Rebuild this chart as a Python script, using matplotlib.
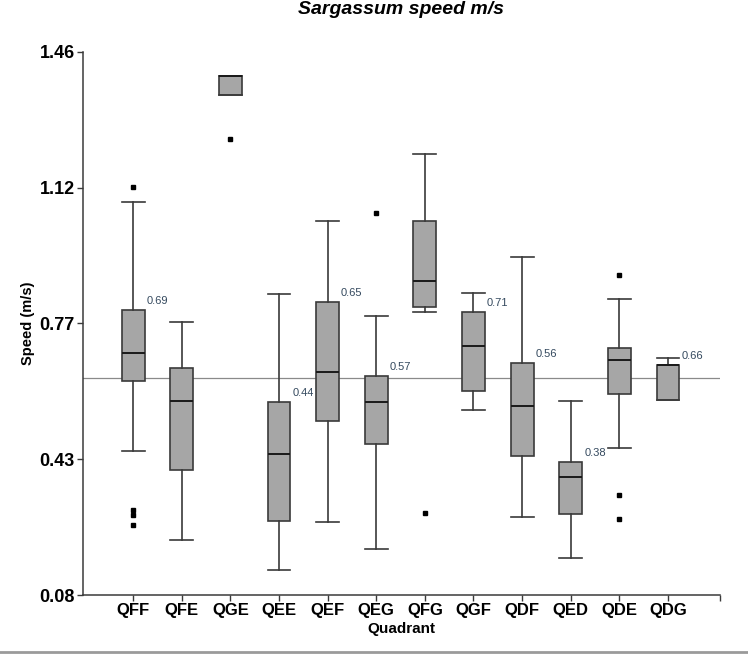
import matplotlib
matplotlib.use("Agg")
import matplotlib.pyplot as plt
from matplotlib.lines import Line2D

plt.rcParams['font.family'] = ['Liberation Sans', 'DejaVu Sans']

categories = ['QFF', 'QFE', 'QGE', 'QEE', 'QEF', 'QEG', 'QFG', 'QGF', 'QDF', 'QED', 'QDE', 'QDG']
whisker_high = [1.08, 0.775, 1.40, 0.845, 1.03, 0.79, 1.20, 0.848, 0.94, 0.573, 0.832, 0.682]
q3_values = [0.805, 0.658, 1.40, 0.570, 0.824, 0.636, 1.03, 0.798, 0.669, 0.419, 0.708, 0.664]
median_values = [0.694, 0.573, 1.40, 0.438, 0.648, 0.571, 0.878, 0.713, 0.561, 0.379, 0.677, 0.664]
q1_values = [0.624, 0.397, 1.350, 0.268, 0.522, 0.464, 0.812, 0.598, 0.432, 0.285, 0.591, 0.575]
whisker_low = [0.447, 0.219, 1.350, 0.143, 0.266, 0.198, 0.799, 0.549, 0.279, 0.175, 0.453, 0.575]
outliers = [[1.118, 0.295, 0.283, 0.258], [], [1.240], [], [], [1.050], [0.289], [], [], [],
            [0.892, 0.333, 0.272], []]
box_labels = ['0.69', None, None, '0.44', '0.65', '0.57', None, '0.71', '0.56', '0.38', None, '0.66']
reference_value = 0.631
y_ticks = [0.08, 0.425, 0.77, 1.115, 1.46]
y_tick_labels = ['0.08', '0.43', '0.77', '1.12', '1.46']

fig = plt.figure(figsize=(7.48, 6.57), dpi=100)
ax = fig.add_axes([83/748, 1-595/657, (720-83)/748, (595-52)/657])

stats = []
for i, c in enumerate(categories):
    stats.append(dict(label=c, med=median_values[i], q1=q1_values[i], q3=q3_values[i],
                      whislo=whisker_low[i], whishi=whisker_high[i], fliers=outliers[i]))

positions = list(range(1, len(categories) + 1))
width = 0.47
ax.axhline(reference_value, color='#8a8a8a', lw=0.9, zorder=0)
ax.bxp(stats, positions=positions, widths=width, patch_artist=True, showfliers=True,
       boxprops=dict(facecolor='#a6a6a6', edgecolor='#3a3a3a', linewidth=1.2),
       medianprops=dict(color='#1a1a1a', linewidth=1.4),
       whiskerprops=dict(color='#3a3a3a', linewidth=1.2),
       capprops=dict(color='#3a3a3a', linewidth=1.2),
       capwidths=width,
       flierprops=dict(marker='s', markersize=3, markerfacecolor='black',
                       markeredgecolor='black'))

for i, lab in enumerate(box_labels):
    if lab is None:
        continue
    ax.annotate(lab, xy=(positions[i] + width/2, q3_values[i]), xytext=(1.5, 6.5),
                textcoords='offset points', ha='left', va='center', fontsize=8,
                color='#34495e')

ax.set_xlim(-0.03, 13.07)
ax.set_ylim(0.08, 1.46)
ax.set_yticks(y_ticks)
ax.set_yticklabels(y_tick_labels, fontsize=13, fontweight='bold')
ax.set_xticks(positions)
ax.set_xticklabels(categories, fontsize=12, fontweight='bold')
ax.set_xticks([13.07], minor=True)
ax.tick_params(axis='both', which='both', direction='out', length=4, width=1, color='#3a3a3a')
ax.tick_params(axis='y', pad=2)
ax.tick_params(axis='x', pad=2)
for s in ['top', 'right']:
    ax.spines[s].set_visible(False)
for s in ['left', 'bottom']:
    ax.spines[s].set_color('#3a3a3a')
    ax.spines[s].set_linewidth(1.1)

ax.set_xlabel('Quadrant', fontsize=11, fontweight='bold', labelpad=3)
ax.set_ylabel('Speed (m/s)', fontsize=10.5, fontweight='bold', labelpad=3)
fig.text((83 + 720) / 2 / 748, 1 - 10/657, 'Sargassum speed m/s', fontsize=14,
         fontweight='bold', style='italic', ha='center', va='center')

fig.add_artist(Line2D([0, 1], [1 - 652/657, 1 - 652/657], transform=fig.transFigure,
                      color='#9a9a9a', lw=2))

fig.savefig('out.png', dpi=100)
